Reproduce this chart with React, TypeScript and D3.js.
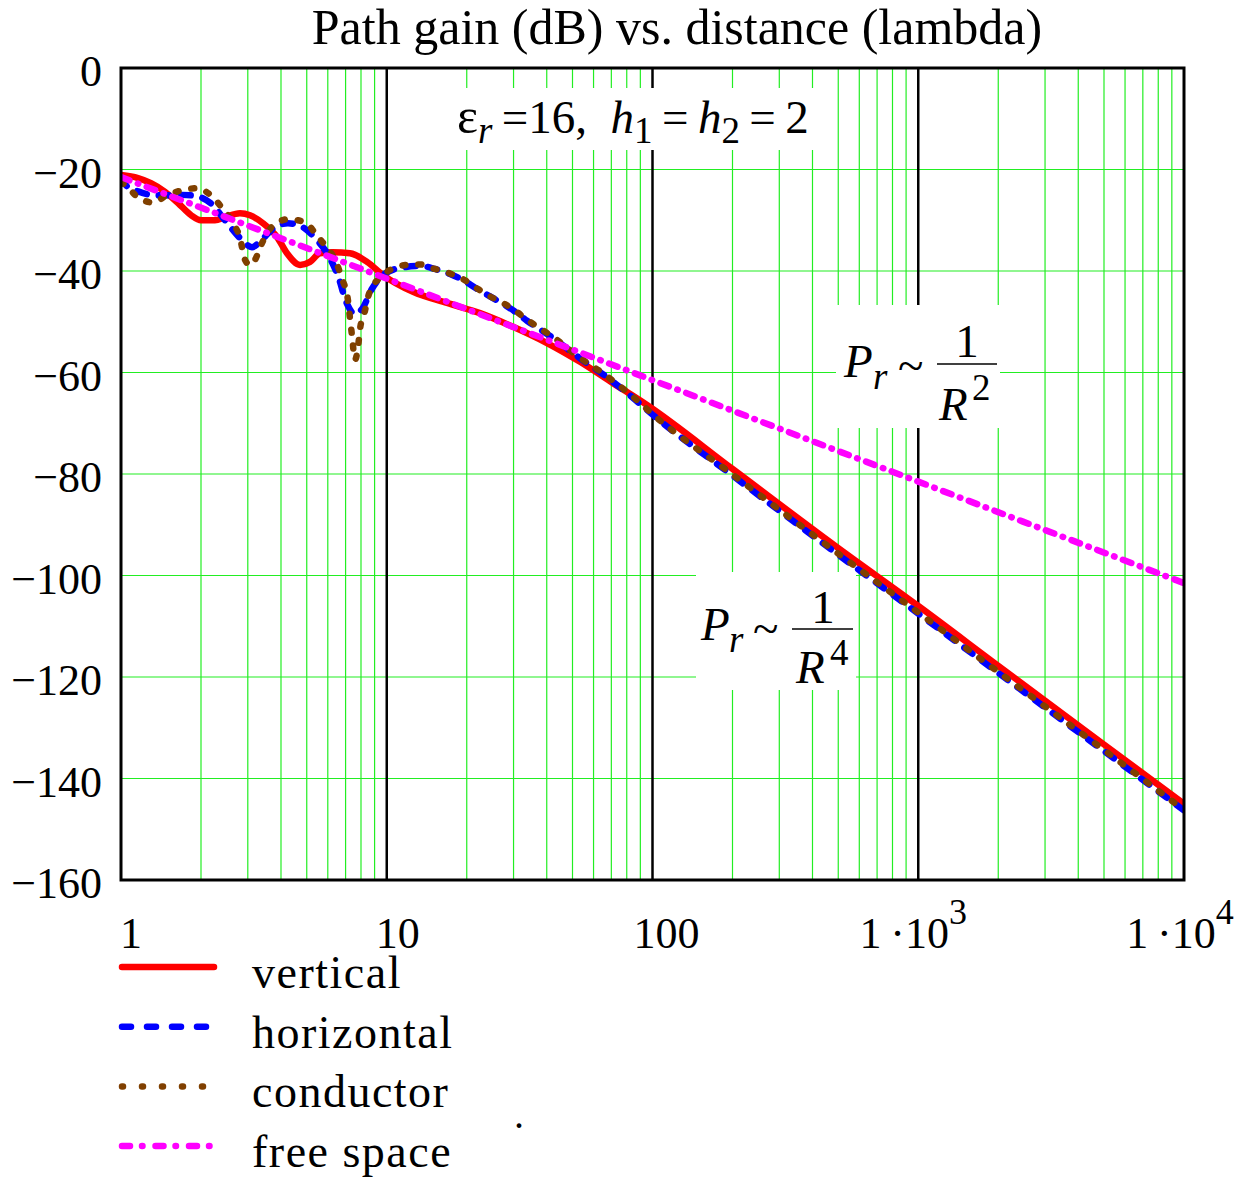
import React from "react";
import * as d3 from "d3";

// ---------- data ----------
const verticalD = [1.0, 1.159, 1.297, 1.464, 1.639, 1.834, 2.0, 2.258, 2.462, 2.804, 3.058, 3.422, 3.864, 4.213, 4.717, 5.143, 5.609, 6.277, 7.272, 8.428, 9.681, 12.56, 16.86, 22.43, 29.87, 40.09, 53.36, 71.02, 95.35, 200, 500, 1000, 2000, 5000, 10000];
const verticalDb = [-21.1, -21.7, -22.7, -24.4, -26.6, -29.0, -30.0, -30.0, -29.4, -28.6, -29.0, -30.6, -33.3, -36.5, -38.8, -38.2, -36.5, -36.3, -36.5, -38.2, -40.8, -44.1, -46.3, -48.3, -51.0, -54.2, -57.9, -62.1, -66.4, -79.0, -94.6, -106.0, -117.8, -133.3, -145.0];

const horizontalD = [1.0, 1.053, 1.159, 1.297, 1.464, 1.70, 1.899, 2.182, 2.462, 2.804, 3.111, 3.393, 3.764, 4.25, 4.675, 5.37, 6.115, 6.555, 7.088, 7.596, 8.07, 8.80, 9.85, 11.81, 13.34, 15.19, 17.30, 19.20, 21.67, 24.46, 27.38, 30.39, 33.71, 37.73, 42.23, 52.45, 58.19, 64.56, 71.63, 80.17, 89.75, 100, 200, 500, 1000, 2000, 5000, 10000];
const horizontalDb = [-21.6, -23.3, -24.3, -25.0, -25.1, -25.0, -25.2, -26.7, -30.0, -33.5, -35.3, -33.8, -31.5, -30.6, -31.0, -33.5, -37.5, -41.0, -46.5, -48.5, -47.5, -43.5, -40.5, -39.2, -39.0, -39.6, -40.6, -41.7, -43.4, -45.0, -46.5, -48.0, -49.8, -51.5, -53.2, -56.9, -58.6, -60.2, -62.0, -64.0, -66.2, -68.3, -80.3, -95.9, -107.5, -119.2, -134.6, -146.3];

const conductorD = [1.0, 1.035, 1.159, 1.319, 1.477, 1.667, 1.932, 2.2, 2.378, 2.617, 2.804, 2.929, 3.058, 3.193, 3.393, 3.70, 4.25, 4.968, 5.417, 5.906, 6.387, 6.785, 7.148, 7.272, 7.399, 7.596, 7.795, 7.931, 8.282, 8.575, 9.432, 10.28, 11.92, 13.22, 15.19, 17.30, 19.20, 21.67, 24.46, 27.38, 30.39, 33.71, 37.73, 42.23, 52.45, 58.19, 64.56, 71.63, 80.17, 89.75, 100, 200, 500, 1000, 2000, 5000, 10000];
const conductorDb = [-22.5, -23.0, -25.5, -26.5, -25.2, -24.2, -23.7, -25.3, -27.3, -30.3, -33.5, -37.8, -38.8, -37.8, -34.5, -31.3, -29.8, -30.5, -32.8, -35.2, -37.8, -41.5, -45.8, -49.3, -52.7, -57.5, -55.0, -51.5, -47.8, -44.5, -41.3, -39.8, -38.8, -38.7, -39.6, -40.5, -41.5, -43.3, -45.0, -46.3, -47.8, -49.6, -51.3, -53.0, -56.8, -58.5, -60.0, -61.8, -63.8, -66.0, -68.2, -80.1, -95.7, -107.3, -119.0, -134.4, -146.2];

const freeSpaceD = [1, 10, 100, 1000, 10000];
const freeSpaceDb = [-21.5, -41.5, -61.5, -81.5, -101.5];

const yTicks = [0, -20, -40, -60, -80, -100, -120, -140, -160];
const xDecades = [1, 10, 100, 1000, 10000];
const xTickMain = ["1", "10", "100", "1\u2009\u00b7", "1\u2009\u00b7"];
const xTickSup = ["", "", "", "3", "4"];
const xTickTen = ["", "", "", "10", "10"];

const legendLabels = ["vertical", "horizontal", "conductor", "free space"];

const titleText = "Path gain (dB) vs. distance (lambda)";

// ---------- styles ----------
const colors = ["#ff0000", "#0000ff", "#804000", "#ff00ff"];
const dashes = ["", "10 12", "3 13", "9 9 0.5 9"];
const legendDashes = ["", "9 16", "1 19", "8 12 0.5 13"];
const FONT = "'Times New Roman', 'Liberation Serif', serif";

export default function App() {
  const left = 121, right = 1184, top = 68, bottom = 880;
  const x = d3.scaleLog().domain([1, 10000]).range([left, right]);
  const y = d3.scaleLinear().domain([-160, 0]).range([bottom, top]);

  const series = [
    { d: verticalD, v: verticalDb },
    { d: horizontalD, v: horizontalDb },
    { d: conductorD, v: conductorDb },
    { d: freeSpaceD, v: freeSpaceDb },
  ];

  const line = d3
    .line<[number, number]>()
    .x((p) => x(p[0]))
    .y((p) => y(p[1]))
    .curve(d3.curveMonotoneX);

  const minor: number[] = [];
  for (let e = 0; e < 4; e++) {
    for (let k = 2; k <= 9; k++) minor.push(k * Math.pow(10, e));
  }

  const green = "#22ee22";

  return (
    <svg width={1248} height={1179} style={{ position: "absolute", left: 0, top: 0, background: "#fff" }} fontFamily={FONT}>
      <rect x={0} y={0} width={1248} height={1179} fill="#fff" />
      <defs>
        <clipPath id="plotClip">
          <rect x={left} y={top} width={right - left} height={bottom - top} />
        </clipPath>
      </defs>

      {/* title */}
      <text x={677} y={44} fontSize={50} textAnchor="middle" fill="#000">{titleText}</text>

      {/* grid */}
      {minor.map((m) => (
        <line key={"mv" + m} x1={x(m)} x2={x(m)} y1={top} y2={bottom} stroke={green} strokeWidth={1.2} />
      ))}
      {yTicks.slice(1, -1).map((t) => (
        <line key={"h" + t} x1={left} x2={right} y1={y(t)} y2={y(t)} stroke={green} strokeWidth={1.2} />
      ))}
      {xDecades.slice(1, -1).map((t) => (
        <line key={"dv" + t} x1={x(t)} x2={x(t)} y1={top} y2={bottom} stroke="#000" strokeWidth={2.5} />
      ))}

      {/* annotation boxes */}
      <rect x={445} y={88} width={383} height={62} fill="#fff" />
      <rect x={836} y={305} width={164} height={123} fill="#fff" />
      <rect x={696} y={572} width={160} height={118} fill="#fff" />

      {/* curves */}
      <g clipPath="url(#plotClip)">
        {series.map((s, i) => (
          <path
            key={"s" + i}
            d={line(s.d.map((dd, j) => [dd, s.v[j]] as [number, number])) || ""}
            fill="none"
            stroke={colors[i]}
            strokeWidth={6.5}
            strokeDasharray={dashes[i] || undefined}
            strokeLinecap="round"
            strokeLinejoin="round"
          />
        ))}
      </g>

      {/* frame */}
      <rect x={left} y={top} width={right - left} height={bottom - top} fill="none" stroke="#000" strokeWidth={3} />

      {/* y tick labels */}
      {yTicks.map((t) => (
        <text key={"yl" + t} x={102} y={y(t) + 18} fontSize={44} textAnchor="end" fill="#000">
          {t === 0 ? "0" : "\u2212" + Math.abs(t)}
        </text>
      ))}

      {/* x tick labels */}
      {xDecades.map((t, i) => (
        <text key={"xl" + t} x={x(t) + [10, 11, 14, -5, -4][i]} y={948} fontSize={44} textAnchor="middle" fill="#000">
          {xTickMain[i]}
          {xTickTen[i] ? <tspan>{xTickTen[i]}</tspan> : null}
          {xTickSup[i] ? <tspan dy={-24} fontSize={36}>{xTickSup[i]}</tspan> : null}
        </text>
      ))}

      {/* annotation: epsilon */}
      <text x={457} y={133} fontSize={47} fill="#000">
        <tspan fontSize={50}>{"\u03b5"}</tspan>
        <tspan dy={10} fontStyle="italic" fontSize={37}>r</tspan>
        <tspan dy={-10}>{"\u2009=16,\u2002"}</tspan>
        <tspan fontStyle="italic">h</tspan>
        <tspan dy={10} fontSize={37}>1</tspan>
        <tspan dy={-10}>{"\u2009=\u2009"}</tspan>
        <tspan fontStyle="italic">h</tspan>
        <tspan dy={10} fontSize={37}>2</tspan>
        <tspan dy={-10}>{"\u2009=\u20092"}</tspan>
      </text>

      {/* annotation: 1/R^2 */}
      <text x={844} y={377} fontSize={47} fontStyle="italic" fill="#000">P</text>
      <text x={873} y={389} fontSize={37} fontStyle="italic" fill="#000">r</text>
      <text x={898} y={381} fontSize={47} fill="#000">~</text>
      <text x={967} y={357} fontSize={47} textAnchor="middle" fill="#000">1</text>
      <line x1={937} x2={997} y1={364} y2={364} stroke="#000" strokeWidth={1.5} />
      <text x={939} y={420} fontSize={47} fontStyle="italic" fill="#000">R</text>
      <text x={972} y={400} fontSize={37} fill="#000">2</text>

      {/* annotation: 1/R^4 */}
      <text x={701} y={640} fontSize={47} fontStyle="italic" fill="#000">P</text>
      <text x={729} y={652} fontSize={37} fontStyle="italic" fill="#000">r</text>
      <text x={753} y={644} fontSize={47} fill="#000">~</text>
      <text x={823} y={623} fontSize={47} textAnchor="middle" fill="#000">1</text>
      <line x1={792} x2={853} y1={629} y2={629} stroke="#000" strokeWidth={1.5} />
      <text x={796} y={683} fontSize={47} fontStyle="italic" fill="#000">R</text>
      <text x={830} y={665} fontSize={37} fill="#000">4</text>

      {/* legend */}
      {legendLabels.map((lab, i) => {
        const ly = 967 + i * 59.7;
        return (
          <g key={"lg" + i}>
            <line x1={122} x2={214} y1={ly} y2={ly} stroke={colors[i]} strokeWidth={6.5} strokeDasharray={legendDashes[i] || undefined} strokeLinecap="round" />
            <text x={252} y={ly + 21} fontSize={46} letterSpacing={1.5} fill="#000">{lab}</text>
          </g>
        );
      })}
      <text x={514} y={1128} fontSize={40} fill="#000">.</text>
    </svg>
  );
}
